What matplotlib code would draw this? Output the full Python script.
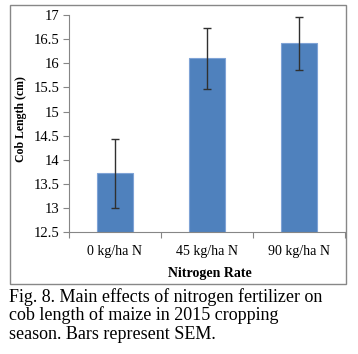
import matplotlib
matplotlib.use("Agg")
import matplotlib.pyplot as plt
from matplotlib.patches import Rectangle
import numpy as np

# Data
rates = ["0 kg/ha N", "45 kg/ha N", "90 kg/ha N"]
cob_length = [13.72, 16.10, 16.41]
sem = [0.72, 0.64, 0.55]

caption = ["Fig. 8. Main effects of nitrogen fertilizer on",
           "cob length of maize in 2015 cropping",
           "season. Bars represent SEM."]

plt.rcParams['font.family'] = ['Liberation Serif', 'DejaVu Serif']

fig = plt.figure(figsize=(3.58, 3.54), dpi=100)
ax = fig.add_axes([69 / 358, 1 - 232.3 / 354, 276 / 358, 217.3 / 354])

x = np.arange(len(rates))
ax.bar(x, cob_length, width=0.4, color="#4F81BD", edgecolor="#7FA3D6", linewidth=0.8,
       yerr=sem, ecolor="#303030", error_kw=dict(elinewidth=1.0, capsize=3, capthick=1.0))

ax.set_xlim(-0.5, 2.5)
ax.set_ylim(12.5, 17)
ax.set_yticks(np.arange(12.5, 17.01, 0.5))
ax.set_yticklabels(["12.5", "13", "13.5", "14", "14.5", "15", "15.5", "16", "16.5", "17"])
ax.set_xticks(x)
ax.set_xticklabels(rates)
ax.set_xticks([-0.5, 0.5, 1.5, 2.5], minor=True)
ax.tick_params(axis="x", which="major", length=0, pad=9, labelsize=10)
ax.tick_params(axis="x", which="minor", length=4, color="#868686", width=0.8)
ax.tick_params(axis="y", length=4, color="#868686", width=0.8, labelsize=10.5, pad=3)

for s in ["top", "right"]:
    ax.spines[s].set_visible(False)
for s in ["left", "bottom"]:
    ax.spines[s].set_color("#868686")
    ax.spines[s].set_linewidth(0.8)

ax.set_xlabel("Nitrogen Rate", fontweight="bold", fontsize=10)
ax.xaxis.set_label_coords((209.5 - 69) / 276, (232.3 - 273) / 217.3)
ax.xaxis.label.set_va("center")
ax.set_ylabel("Cob Length (cm)", fontweight="bold", fontsize=8.5)
ax.yaxis.set_label_coords((21 - 69) / 276, (232.3 - 119) / 217.3)
ax.yaxis.label.set_va("center")

# outer chart border
fig.patches.append(Rectangle((9.5 / 358, 1 - 284 / 354), 336 / 358, 279 / 354,
                             transform=fig.transFigure, fill=False,
                             edgecolor="#878787", linewidth=1.0))

for i, line in enumerate(caption):
    fig.text(9 / 358, 1 - (302 + 18.5 * i) / 354, line, fontsize=13,
             va="baseline", ha="left")

fig.savefig("out.png", dpi=100)
